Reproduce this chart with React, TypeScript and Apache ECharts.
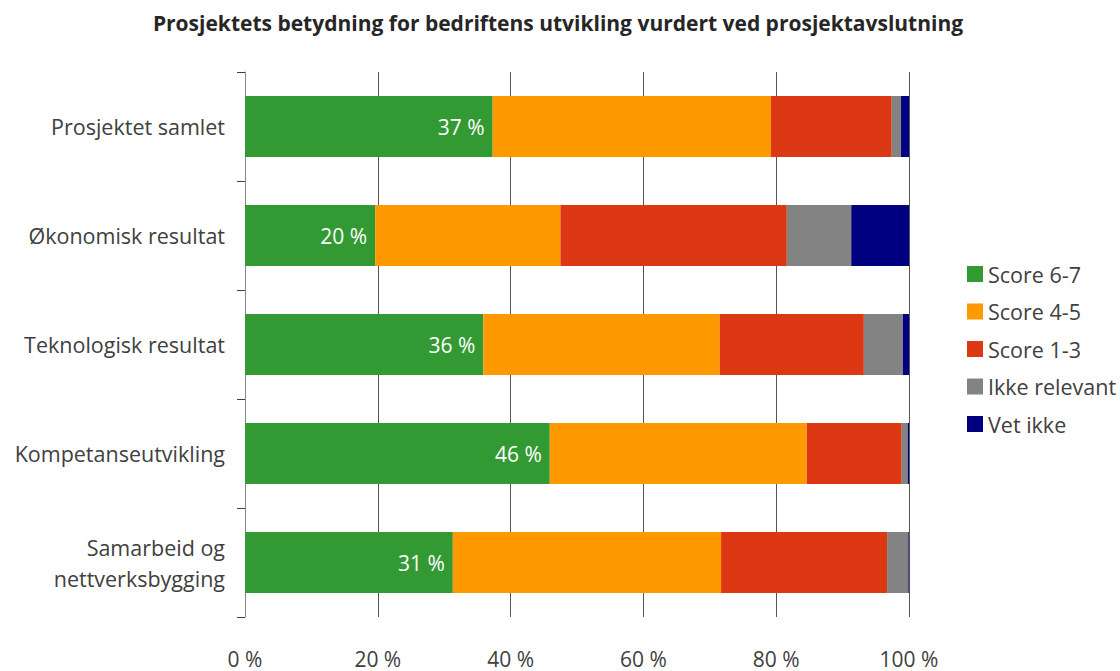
import React, { useEffect, useRef } from "react";
import * as echarts from "echarts";

const categories = [
  "Prosjektet samlet",
  "Økonomisk resultat",
  "Teknologisk resultat",
  "Kompetanseutvikling",
  "Samarbeid og\nnettverksbygging",
];
const seriesNames = ["Score 6-7", "Score 4-5", "Score 1-3", "Ikke relevant", "Vet ikke"];
const score67 = [37.3, 19.6, 35.9, 45.9, 31.3];
const score45 = [41.9, 27.9, 35.6, 38.7, 40.4];
const score13 = [18.2, 34.1, 21.7, 14.3, 25.0];
const ikkeRelevant = [1.4, 9.7, 5.9, 0.9, 3.2];
const vetIkke = [1.2, 8.7, 0.9, 0.2, 0.1];
const colors = ["#339933", "#FF9900", "#DD3814", "#838383", "#000080"];
const xTicks = [0, 20, 40, 60, 80, 100];

const FONT = "'Open Sans', 'Noto Sans', sans-serif";
const TEXT = "#404040";

export default function App() {
  const ref = useRef<HTMLDivElement>(null);
  useEffect(() => {
    if (!ref.current) return;
    const chart = echarts.init(ref.current, null, { renderer: "svg" });
    const data = [score67, score45, score13, ikkeRelevant, vetIkke];
    chart.setOption({
      animation: false,
      backgroundColor: "#ffffff",
      title: {
        text: "Prosjektets betydning for bedriftens utvikling vurdert ved prosjektavslutning",
        left: 553,
        textAlign: "center",
        top: 7,
        textStyle: { fontFamily: FONT, fontSize: 21, fontWeight: "bold", color: "#262626" },
      },
      legend: {
        orient: "vertical",
        left: 962,
        top: 258,
        itemWidth: 16,
        itemHeight: 16,
        itemGap: 15.5,
        icon: "rect",
        data: seriesNames,
        textStyle: { fontFamily: FONT, fontSize: 21.5, color: TEXT, lineHeight: 22 },
      },
      grid: { left: 245, right: 211, top: 72, bottom: 54, containLabel: false },
      xAxis: {
        type: "value",
        min: xTicks[0],
        max: xTicks[xTicks.length - 1],
        interval: 20,
        axisLine: { show: false },
        axisTick: { show: false },
        axisLabel: {
          formatter: "{value} %",
          margin: 31,
          fontFamily: FONT,
          fontSize: 21,
          color: TEXT,
        },
        splitLine: { show: true, lineStyle: { color: "#555555", width: 1 } },
      },
      yAxis: {
        type: "category",
        data: categories,
        inverse: true,
        axisLine: { show: true, lineStyle: { color: "#868686", width: 1 } },
        axisTick: { show: true, length: 8, lineStyle: { color: "#404040" } },
        axisLabel: {
          margin: 20,
          fontFamily: FONT,
          fontSize: 21.5,
          color: TEXT,
          lineHeight: 31,
          align: "right",
        },
      },
      series: seriesNames.map((name, i) => ({
        name,
        type: "bar",
        stack: "total",
        barCategoryGap: "44%",
        data: data[i],
        itemStyle: { color: colors[i] },
        label:
          i === 0
            ? {
                show: true,
                position: "insideRight",
                distance: 8,
                color: "#ffffff",
                fontFamily: FONT,
                fontSize: 21,
                formatter: (p: any) => Math.round(p.value) + " %",
              }
            : { show: false },
      })),
    });
    return () => chart.dispose();
  }, []);
  return (
    <div
      ref={ref}
      style={{ position: "fixed", left: 0, top: 0, width: 1120, height: 671 }}
    />
  );
}
